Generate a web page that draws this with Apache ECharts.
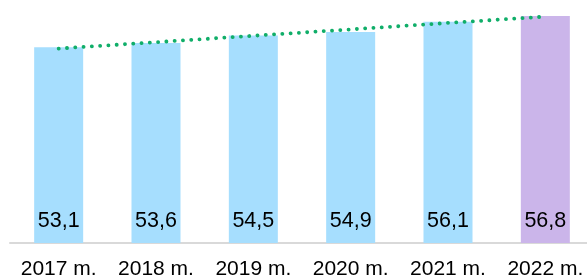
<!DOCTYPE html>
<html>
<head>
<meta charset="utf-8">
<script src="https://cdn.jsdelivr.net/npm/echarts@6/dist/echarts.min.js"></script>
<style>
  html, body { margin: 0; padding: 0; background: #fff; }
  #chart { width: 587px; height: 279px; }
</style>
</head>
<body>
<div id="chart"></div>
<script>
// data
var years = ["2017 m.", "2018 m.", "2019 m.", "2020 m.", "2021 m.", "2022 m."];
var values = [53.1, 53.6, 54.5, 54.9, 56.1, 56.8];
var trend = [52.95, 53.7, 54.46, 55.21, 55.97, 56.72];
var barColors = ["#a6defe", "#a6defe", "#a6defe", "#a6defe", "#a6defe", "#cbb5ea"];

var chart = echarts.init(document.getElementById("chart"));

var option = {
  animation: false,
  grid: { left: 10, right: -7, top: 10, bottom: 36, outerBoundsMode: "none" },
  xAxis: {
    type: "category",
    data: years,
    axisTick: { show: false },
    axisLine: { lineStyle: { color: "#d9d9d9", width: 2 } },
    axisLabel: {
      interval: 0,
      color: "#000",
      fontSize: 21,
      fontFamily: "Liberation Sans, Arial, sans-serif",
      margin: 16
    }
  },
  yAxis: {
    type: "value",
    min: 30,
    max: 57.5,
    show: false,
    splitLine: { show: false }
  },
  series: [
    {
      type: "bar",
      barWidth: 49,
      data: values.map(function (v, i) {
        return { value: v, itemStyle: { color: barColors[i] } };
      }),
      label: {
        show: true,
        position: "insideBottom",
        distance: 11,
        color: "#000",
        fontSize: 21.5,
        fontFamily: "Liberation Sans, Arial, sans-serif",
        formatter: function (p) {
          return String(p.value.toFixed(1)).replace(".", ",");
        }
      }
    },
    {
      type: "line",
      data: trend,
      symbol: "none",
      z: 5,
      lineStyle: {
        color: "#10ae69",
        width: 3.8,
        type: [0.1, 8.2],
        cap: "round"
      }
    }
  ]
};

chart.setOption(option);
</script>
</body>
</html>
